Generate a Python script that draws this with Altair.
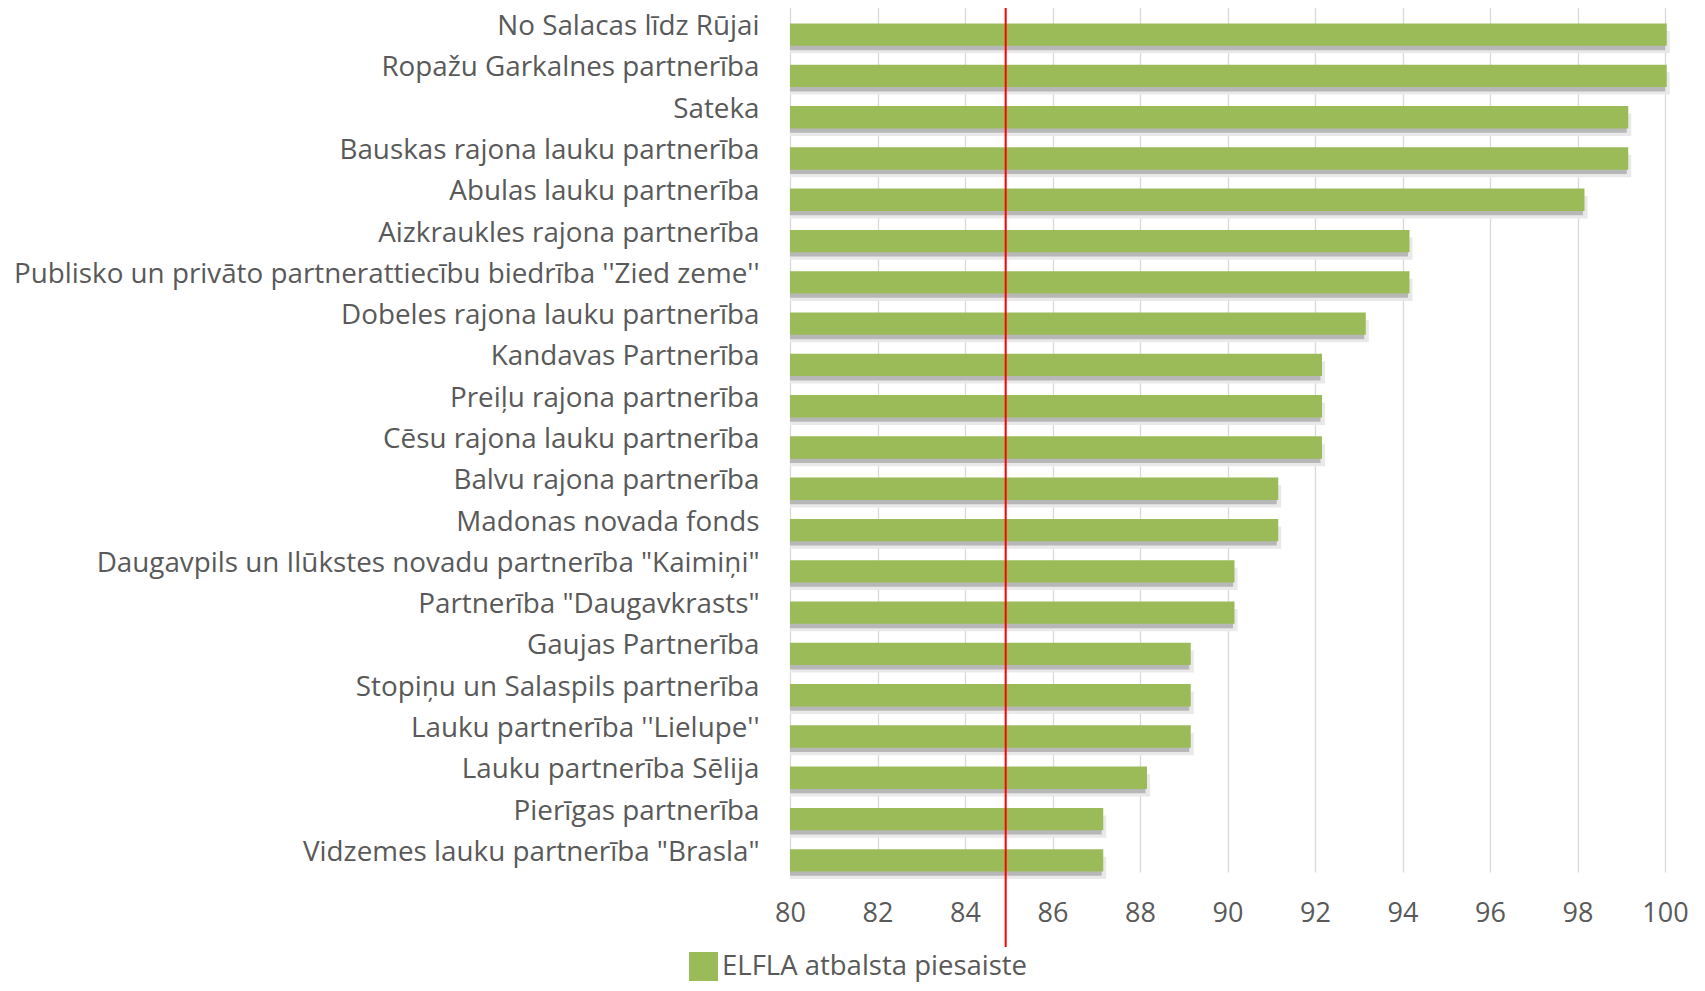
import altair as alt
import pandas as pd

categories = [
    "No Salacas līdz Rūjai",
    "Ropažu Garkalnes partnerība",
    "Sateka",
    "Bauskas rajona lauku partnerība",
    "Abulas lauku partnerība",
    "Aizkraukles rajona partnerība",
    "Publisko un privāto partnerattiecību biedrība ''Zied zeme''",
    "Dobeles rajona lauku partnerība",
    "Kandavas Partnerība",
    "Preiļu rajona partnerība",
    "Cēsu rajona lauku partnerība",
    "Balvu rajona partnerība",
    "Madonas novada fonds",
    "Daugavpils un Ilūkstes novadu partnerība \"Kaimiņi\"",
    "Partnerība \"Daugavkrasts\"",
    "Gaujas Partnerība",
    "Stopiņu un Salaspils partnerība",
    "Lauku partnerība ''Lielupe''",
    "Lauku partnerība Sēlija",
    "Pierīgas partnerība",
    "Vidzemes lauku partnerība \"Brasla\"",
]
values = [100.04, 100.04, 99.16, 99.16, 98.16, 94.16, 94.16, 93.16, 92.16, 92.16,
          92.16, 91.16, 91.16, 90.16, 90.16, 89.16, 89.16, 89.16, 88.16, 87.16, 87.16]
series_name = "ELFLA atbalsta piesaiste"
threshold = [84.93]
x_ticks = [80, 82, 84, 86, 88, 90, 92, 94, 96, 98, 100]
x_domain = [80, 100]
bar_base = 80

df = pd.DataFrame({"name": categories, "value": values, "series": series_name})
df_rule = pd.DataFrame({"value": threshold})

FONT = "Open Sans"
TEXT = "#595959"
GREEN = "#9BBB59"

x_axis = alt.Axis(
    title=None, values=x_ticks, grid=True, gridColor="#d9d9d9", gridWidth=1.3,
    ticks=False, domain=False, labelFont=FONT, labelFontSize=27, labelColor=TEXT,
    labelPadding=28, format="d", labelFlush=False,
)
y_axis = alt.Axis(
    title=None, ticks=False, domain=False, grid=False, labelFont=FONT,
    labelFontSize=27.8, labelColor=TEXT, labelPadding=31, labelOffset=1.5,
    labelLimit=1200,
)
x_scale = alt.Scale(domain=x_domain, nice=False, zero=False)
y_scale = alt.Scale(paddingInner=0.458, paddingOuter=0.229)

x_enc = alt.X("value:Q", scale=x_scale, axis=x_axis)
y_enc = alt.Y("name:N", sort=categories, scale=y_scale, axis=y_axis)

base = alt.Chart(df).encode(x=x_enc, x2=alt.X2(datum=bar_base), y=y_enc)

shadow_light = base.mark_bar(color="#e9e9e9", xOffset=3, yOffset=16.5, y2Offset=16.5)
shadow_dark = base.mark_bar(color="#b7b7b7", xOffset=-1.5, yOffset=13.3, y2Offset=13.3)
bars = base.mark_bar(yOffset=9, y2Offset=9).encode(
    color=alt.Color(
        "series:N",
        scale=alt.Scale(range=[GREEN]),
        legend=alt.Legend(
            title=None, orient="none", legendX=-101, legendY=947, padding=0,
            symbolType="square", symbolSize=841, symbolStrokeWidth=0,
            labelFont=FONT, labelFontSize=27.5, labelColor=TEXT, labelOffset=4,
            labelLimit=1000,
        ),
    )
)

rule = alt.Chart(df_rule).mark_rule(color="#FF0000", strokeWidth=2).encode(
    x=alt.X("value:Q", scale=x_scale, axis=x_axis),
    y=alt.value(-5),
    y2=alt.value(942),
)

chart = (
    alt.layer(shadow_light, shadow_dark, bars, rule)
    .properties(
        width=875,
        height=867,
        autosize=alt.AutoSizeParams(type="none"),
        padding={"left": 782, "top": -3, "right": 28, "bottom": 110},
    )
    .configure_view(stroke="transparent")
)

chart.save("out.html", embed_options={"renderer": "svg", "actions": False})
